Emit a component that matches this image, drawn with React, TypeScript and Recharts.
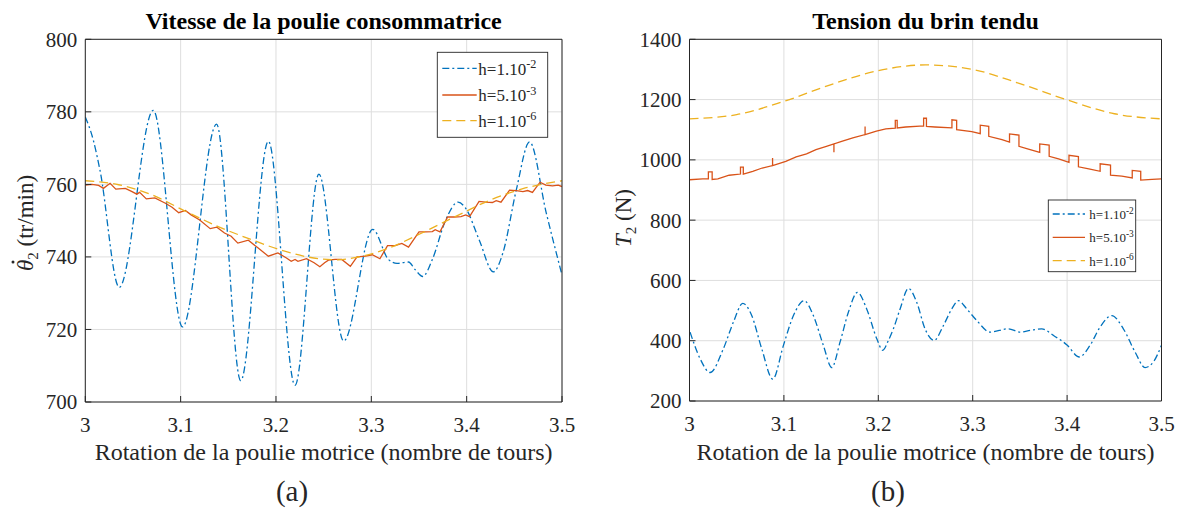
import React from 'react';
import { LineChart, Line, XAxis, YAxis, CartesianGrid } from 'recharts';

// shared axis ticks
const turnTicks = [3, 3.1, 3.2, 3.3, 3.4, 3.5];
const speedTicks = [700, 720, 740, 760, 780, 800];
const tensionTicks = [200, 400, 600, 800, 1000, 1200, 1400];

// (a) speed, h = 1e-2
const speedCoarseX = [3.0, 3.0084, 3.0154, 3.0356, 3.0713, 3.102, 3.1377, 3.163, 3.192, 3.22, 3.245, 3.271, 3.3015, 3.318, 3.327, 3.339, 3.346, 3.354, 3.364, 3.378, 3.391, 3.399, 3.413, 3.428, 3.438, 3.452, 3.466, 3.4836, 3.5];
const speedCoarseY = [778.6, 772.2, 763.9, 731.6, 780.4, 720.7, 776.6, 705.9, 771.9, 704.6, 762.8, 716.8, 747.6, 739.3, 738.2, 738.6, 736.5, 734.6, 739.3, 750.2, 755.1, 753.4, 744.8, 735.9, 741.1, 758.4, 771.7, 752, 735];

// (a) speed, h = 5e-3
const speedMidX = [3.0, 3.007, 3.014, 3.019, 3.026, 3.032, 3.042, 3.049, 3.054, 3.057, 3.064, 3.073, 3.084, 3.091, 3.098, 3.105, 3.111, 3.12, 3.131, 3.138, 3.146, 3.153, 3.16, 3.171, 3.181, 3.192, 3.202, 3.211, 3.216, 3.22, 3.223, 3.232, 3.24, 3.246, 3.251, 3.255, 3.262, 3.269, 3.278, 3.285, 3.294, 3.301, 3.309, 3.317, 3.325, 3.332, 3.339, 3.35, 3.357, 3.364, 3.367, 3.372, 3.38, 3.387, 3.394, 3.399, 3.403, 3.413, 3.42, 3.427, 3.431, 3.436, 3.445, 3.452, 3.459, 3.464, 3.469, 3.477, 3.483, 3.49, 3.496, 3.5];
const speedMidY = [759.8, 760.0, 759.7, 758.9, 760.3, 758.7, 758.9, 758.0, 757.3, 757.8, 756.0, 756.3, 754.8, 753.7, 752.2, 752.8, 751.6, 750.2, 747.8, 748.2, 746.6, 745.7, 743.8, 744.6, 742.5, 740.2, 741.1, 739.7, 738.8, 739.3, 738.8, 739.5, 738.4, 737.3, 738.4, 739.1, 739.3, 739.3, 737.4, 740.0, 740.2, 740.6, 739.5, 743.1, 743.1, 743.7, 742.7, 746.9, 746.9, 747.0, 747.5, 746.9, 751.0, 751.0, 751.1, 751.6, 751.1, 755.3, 755.1, 755.0, 755.5, 755.1, 758.4, 758.3, 758.0, 758.3, 757.8, 760.6, 759.8, 759.6, 759.8, 759.4];

// (a) speed, h = 1e-6
const speedFineX = [3.0, 3.035, 3.07, 3.105, 3.14, 3.175, 3.21, 3.245, 3.265, 3.283, 3.318, 3.353, 3.388, 3.424, 3.459, 3.5];
const speedFineY = [761.0, 759.9, 757.1, 752.6, 748.3, 744.7, 741.5, 739.5, 739.2, 739.8, 742.4, 746.6, 751.1, 755.6, 758.8, 761.0];

// (b) tension, h = 1e-2
const tensionCoarseX = [3.0006, 3.0112, 3.0218, 3.0359, 3.0465, 3.0564, 3.0659, 3.0765, 3.0882, 3.0995, 3.1101, 3.1214, 3.1312, 3.1418, 3.1507, 3.1595, 3.1683, 3.1779, 3.1877, 3.1984, 3.2047, 3.2107, 3.216, 3.2231, 3.2319, 3.2407, 3.2495, 3.2591, 3.269, 3.2778, 3.2849, 3.2937, 3.3043, 3.3184, 3.3378, 3.3502, 3.3608, 3.3731, 3.3855, 3.3996, 3.413, 3.4243, 3.4349, 3.4473, 3.4596, 3.472, 3.4826, 3.4914, 3.5];
const tensionCoarseY = [428.6, 340.7, 294.5, 373.6, 461.5, 524.2, 483.5, 373.6, 272.5, 384.6, 483.5, 533, 483.5, 384.6, 311, 395.6, 494.5, 560.4, 505.5, 406.6, 368, 401, 439.6, 505.5, 573.6, 527.5, 439.6, 401, 450.5, 505.5, 533, 505.5, 467, 428.6, 439.6, 428.6, 434, 439.6, 417.6, 386.8, 346, 384.6, 445, 483.5, 439.6, 362.6, 311, 329.7, 384.6];

// (b) tension, h = 5e-3
const tensionMidX = [3.0, 3.014, 3.02, 3.02, 3.024, 3.024, 3.03, 3.042, 3.054, 3.054, 3.057, 3.057, 3.067, 3.077, 3.088, 3.088, 3.088, 3.102, 3.113, 3.124, 3.134, 3.145, 3.153, 3.153, 3.153, 3.162, 3.173, 3.186, 3.186, 3.186, 3.198, 3.208, 3.218, 3.218, 3.22, 3.22, 3.229, 3.244, 3.248, 3.248, 3.251, 3.251, 3.26, 3.278, 3.278, 3.283, 3.283, 3.299, 3.308, 3.308, 3.317, 3.317, 3.331, 3.339, 3.339, 3.349, 3.349, 3.359, 3.371, 3.371, 3.381, 3.381, 3.391, 3.402, 3.402, 3.412, 3.412, 3.423, 3.435, 3.435, 3.446, 3.446, 3.458, 3.469, 3.469, 3.478, 3.478, 3.49, 3.5];
const tensionMidY = [934, 937, 937, 960, 960, 935, 937, 949, 953, 976, 976, 953, 962, 973, 981, 1006, 981, 995, 1010, 1020, 1034, 1045, 1053, 1025, 1053, 1062, 1073, 1084, 1111, 1084, 1095, 1103, 1105, 1131, 1131, 1106, 1109, 1112, 1112, 1138, 1138, 1111, 1109, 1106, 1133, 1131, 1100, 1094, 1087, 1115, 1111, 1078, 1067, 1059, 1086, 1082, 1045, 1036, 1025, 1053, 1049, 1012, 1003, 992, 1015, 1011, 977, 970, 962, 987, 983, 949, 946, 940, 965, 962, 933, 935, 937];

// (b) tension, h = 1e-6
const tensionFineX = [3.0, 3.05, 3.1, 3.15, 3.2, 3.25, 3.3, 3.35, 3.4, 3.45, 3.5];
const tensionFineY = [1136, 1150, 1194, 1250, 1296, 1315, 1300, 1253, 1199, 1153, 1136];

const BLUE = '#0072BD';
const RED = '#D95319';
const YELLOW = '#EDB120';
const INK = '#262626';
const FONT = 'Liberation Serif';

const dashDot = '7 3 2 3';
const dashed = '9 5';

const zip = (xs: number[], ys: number[]) => xs.map((x, i) => ({ x, y: ys[i] }));

const series = {
  speed: [
    { key: 'c', data: zip(speedCoarseX, speedCoarseY), color: BLUE, dash: dashDot, type: 'monotone' },
    { key: 'm', data: zip(speedMidX, speedMidY), color: RED, dash: undefined, type: 'linear' },
    { key: 'f', data: zip(speedFineX, speedFineY), color: YELLOW, dash: dashed, type: 'monotone' },
  ],
  tension: [
    { key: 'c', data: zip(tensionCoarseX, tensionCoarseY), color: BLUE, dash: dashDot, type: 'monotone' },
    { key: 'm', data: zip(tensionMidX, tensionMidY), color: RED, dash: undefined, type: 'linear' },
    { key: 'f', data: zip(tensionFineX, tensionFineY), color: YELLOW, dash: dashed, type: 'monotone' },
  ],
};

const XTick = (props: any) => (
  <text x={props.x} y={props.y} dy="0.71em" textAnchor="middle" fontSize={21} fill={INK} fontFamily={FONT}>
    {props.payload.value}
  </text>
);

const YTick = (props: any) => (
  <text x={props.x} y={props.y} dy="0.355em" textAnchor="end" fontSize={21} fill={INK} fontFamily={FONT}>
    {props.payload.value}
  </text>
);

type PanelProps = {
  left: number;
  width: number;
  yAxisWidth: number;
  rightMargin: number;
  bottomMargin: number;
  yTicks: number[];
  lines: typeof series.speed;
};

const Panel: React.FC<PanelProps> = ({ left, width, yAxisWidth, rightMargin, bottomMargin, yTicks, lines }) => (
  <div style={{ position: 'absolute', left, top: 0 }}>
    <LineChart
      width={width}
      height={440}
      margin={{ top: 38.3, right: rightMargin, bottom: bottomMargin, left: 0 }}
    >
      <CartesianGrid stroke="#dedede" strokeWidth={1} />
      <XAxis
        dataKey="x"
        type="number"
        domain={[3, 3.5]}
        ticks={turnTicks}
        allowDataOverflow
        height={30}
        tickSize={-6}
        tickMargin={21}
        stroke={INK}
        tick={<XTick />}
      />
      <XAxis xAxisId="top" orientation="top" type="number" domain={[3, 3.5]} ticks={turnTicks} height={1} tickSize={-6} tick={false} stroke={INK} />
      <YAxis
        type="number"
        domain={[yTicks[0], yTicks[yTicks.length - 1]]}
        ticks={yTicks}
        allowDataOverflow
        width={yAxisWidth}
        tickSize={-6}
        tickMargin={14}
        stroke={INK}
        tick={<YTick />}
      />
      <YAxis yAxisId="right" orientation="right" type="number" domain={[yTicks[0], yTicks[yTicks.length - 1]]} ticks={yTicks} width={1} tickSize={-6} tick={false} stroke={INK} />
      {lines.map(s => (
        <Line
          key={s.key}
          data={s.data}
          dataKey="y"
          type={s.type as any}
          stroke={s.color}
          strokeWidth={1.3}
          strokeDasharray={s.dash}
          dot={false}
          activeDot={false}
          isAnimationActive={false}
        />
      ))}
    </LineChart>
  </div>
);

const LegendBox: React.FC<{ x: number; y: number; w: number; h: number; rows: number[]; lx: [number, number]; tx: number; fs: number; labels: [string, string][] }> = ({ x, y, w, h, rows, lx, tx, fs, labels }) => {
  const styles = [
    { color: BLUE, dash: dashDot },
    { color: RED, dash: undefined },
    { color: YELLOW, dash: dashed },
  ];
  return (
    <g>
      <rect x={x} y={y} width={w} height={h} fill="#fff" stroke={INK} strokeWidth={0.9} />
      {rows.map((ry, i) => (
        <g key={i}>
          <line x1={lx[0]} x2={lx[1]} y1={ry} y2={ry} stroke={styles[i].color} strokeWidth={1.3} strokeDasharray={styles[i].dash} />
          <text x={tx} y={ry + fs * 0.38} fontSize={fs} fill={INK} fontFamily={FONT}>
            {labels[i][0]}
            <tspan dy={-fs * 0.4} fontSize={fs * 0.72}>{labels[i][1]}</tspan>
          </text>
        </g>
      ))}
    </g>
  );
};

const legendLabels: [string, string][] = [
  ['h=1.10', '-2'],
  ['h=5.10', '-3'],
  ['h=1.10', '-6'],
];

export default function App() {
  return (
    <div style={{ position: 'absolute', left: 0, top: 0, width: 1180, height: 508, background: '#fff', fontFamily: FONT }}>
      <Panel left={0} width={600} yAxisWidth={85.3} rightMargin={37} bottomMargin={8} yTicks={speedTicks} lines={series.speed} />
      <Panel left={600} width={580} yAxisWidth={89.5} rightMargin={17.5} bottomMargin={9} yTicks={tensionTicks} lines={series.tension} />
      <svg width={1180} height={508} style={{ position: 'absolute', left: 0, top: 0, pointerEvents: 'none' }}>
        <g fontFamily={FONT} fill={INK}>
          <text x={323.6} y={29.3} textAnchor="middle" fontSize={24} fontWeight="bold" fill="#000">Vitesse de la poulie consommatrice</text>
          <text x={925.5} y={29.3} textAnchor="middle" fontSize={24} fontWeight="bold" fill="#000">Tension du brin tendu</text>
          <text x={323.6} y={460} textAnchor="middle" fontSize={24}>Rotation de la poulie motrice (nombre de tours)</text>
          <text x={925.5} y={460} textAnchor="middle" fontSize={24}>Rotation de la poulie motrice (nombre de tours)</text>
          <text x={292} y={501} textAnchor="middle" fontSize={29}>(a)</text>
          <text x={888} y={501} textAnchor="middle" fontSize={29}>(b)</text>
          <g transform="translate(33,271) rotate(-90)">
            <text x={0} y={0} fontSize={23}>
              <tspan fontStyle="italic">{'\u03B8'}</tspan>
              <tspan dy={5} fontSize={15}>2</tspan>
              <tspan dy={-5}>{' (tr/min)'}</tspan>
            </text>
            <circle cx={9} cy={-20} r={1.5} fill={INK} />
          </g>
          <g transform="translate(631,247) rotate(-90)">
            <text x={0} y={0} fontSize={23}>
              <tspan fontStyle="italic">T</tspan>
              <tspan dy={5} fontSize={15}>2</tspan>
              <tspan dy={-5}>{' (N)'}</tspan>
            </text>
          </g>
        </g>
        <LegendBox x={437.3} y={52.3} w={110.4} h={85} rows={[68.3, 95, 120.7]} lx={[442.3, 476.7]} tx={478.3} fs={17} labels={legendLabels} />
        <LegendBox x={1048.3} y={200} w={87.4} h={71.7} rows={[214, 237.3, 260.7]} lx={[1052.7, 1085]} tx={1089.3} fs={13} labels={legendLabels} />
      </svg>
    </div>
  );
}
